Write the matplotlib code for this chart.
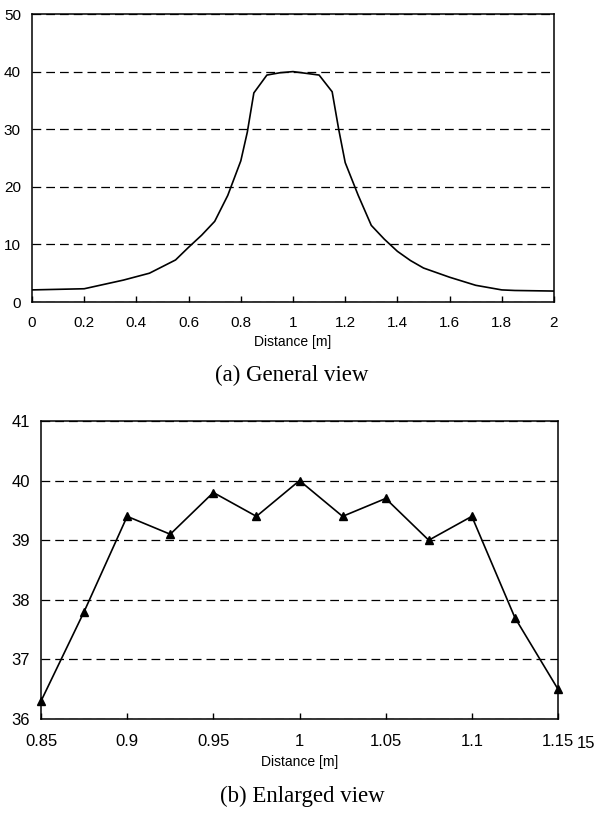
import matplotlib
matplotlib.use("Agg")
import matplotlib.pyplot as plt
from matplotlib.ticker import FuncFormatter

# general view (whole span)
dist_all = [0.0, 0.2, 0.35, 0.45, 0.55, 0.6, 0.65, 0.7, 0.75, 0.8, 0.825,
            0.85, 0.9, 0.95, 1.0, 1.05, 1.1, 1.15,
            1.175, 1.2, 1.25, 1.3, 1.35, 1.4, 1.45, 1.5, 1.6, 1.7, 1.8, 1.85, 2.0]
val_all = [2.1, 2.3, 3.8, 5.0, 7.3, 9.5, 11.6, 14.0, 18.5, 24.5, 29.5,
           36.3, 39.4, 39.8, 40.0, 39.7, 39.4, 36.5,
           30.0, 24.2, 18.5, 13.3, 10.9, 8.8, 7.2, 5.9, 4.3, 2.9, 2.1, 2.0, 1.9]

# enlarged view (centre part)
dist_zoom = [0.85, 0.875, 0.9, 0.925, 0.95, 0.975, 1.0, 1.025, 1.05, 1.075, 1.1, 1.125, 1.15]
val_zoom = [36.3, 37.8, 39.4, 39.1, 39.8, 39.4, 40.0, 39.4, 39.7, 39.0, 39.4, 37.7, 36.5]

xticks_a = [0, 0.2, 0.4, 0.6, 0.8, 1.0, 1.2, 1.4, 1.6, 1.8, 2.0]
yticks_a = [0, 10, 20, 30, 40, 50]
xticks_b = [0.85, 0.9, 0.95, 1.0, 1.05, 1.1, 1.15]
yticks_b = [36, 37, 38, 39, 40, 41]

tick_font = "Liberation Sans"
cap_font = "Liberation Serif"

fig = plt.figure(figsize=(6.0, 8.14), dpi=100)
W, H = 600, 814


def px_axes(l, t, r, b):
    return fig.add_axes([l / W, 1 - b / H, (r - l) / W, (b - t) / H])


def style(ax, xt, yt, fs, xpad, ypad):
    ax.set_xticks(xt)
    ax.set_yticks(yt)
    ax.xaxis.set_major_formatter(FuncFormatter(lambda v, p: "%g" % round(v, 3)))
    ax.tick_params(axis="x", direction="in", length=4, width=1, pad=xpad, labelsize=fs)
    ax.tick_params(axis="y", length=0, pad=ypad, labelsize=fs)
    for lab in ax.get_xticklabels() + ax.get_yticklabels():
        lab.set_family(tick_font)
    ax.yaxis.grid(True, color="black", linestyle=(0, (7, 4)), linewidth=0.9)
    ax.set_axisbelow(True)
    for s in ax.spines.values():
        s.set_linewidth(1.1)
    ax.set_xlabel("Distance [m]", fontsize=10, family=tick_font, labelpad=4)


# (a) general view
ax1 = px_axes(32, 14, 554, 302)
ax1.plot(dist_all, val_all, color="black", linewidth=1.2)
ax1.set_xlim(0, 2)
ax1.set_ylim(0, 50)
style(ax1, xticks_a, yticks_a, 11, 10, 8)
fig.text(292 / W, 1 - 375 / H, "(a) General view", ha="center", va="center",
         fontsize=16.5, family=cap_font)

# (b) enlarged view
ax2 = px_axes(41, 421, 558, 719)
ax2.plot(dist_zoom, val_zoom, color="black", linewidth=1.2, marker="^",
         markersize=6, clip_on=False)
ax2.set_xlim(0.85, 1.15)
ax2.set_ylim(36, 41)
style(ax2, xticks_b, yticks_b, 12, 11, 8)
# stray "15" printed right after the last tick label in the original
fig.text(577 / W, 1 - 743 / H, "15", ha="left", va="center",
         fontsize=12, family=tick_font)
fig.text(302 / W, 1 - 796 / H, "(b) Enlarged view", ha="center", va="center",
         fontsize=16.5, family=cap_font)

fig.savefig("out.png", dpi=100)
